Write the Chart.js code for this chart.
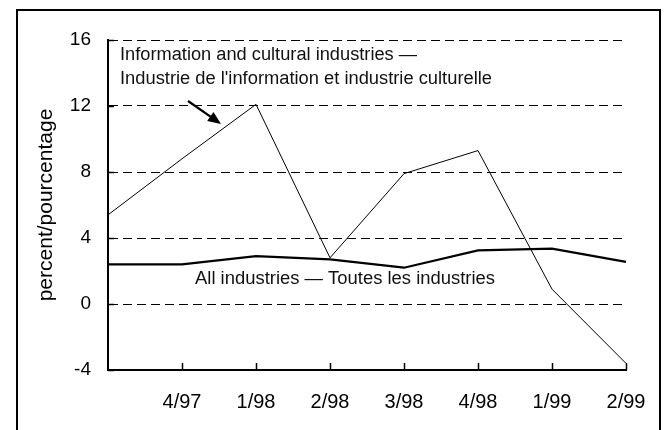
<!DOCTYPE html>
<html>
<head>
<meta charset="utf-8">
<script src="https://cdn.jsdelivr.net/npm/chart.js@4/dist/chart.umd.min.js"></script>
<style>
  html, body { margin: 0; padding: 0; background: #fff; }
  #chart { display: block; }
</style>
</head>
<body>
<canvas id="chart" width="666" height="430"></canvas>
<script>
const quarters = ['3/97', '4/97', '1/98', '2/98', '3/98', '4/98', '1/99', '2/99'];
const tickLabels = ['', '4/97', '1/98', '2/98', '3/98', '4/98', '1/99', '2/99'];
const infoCultural = [5.4, 8.8, 12.1, 2.8, 7.9, 9.3, 0.9, -3.6];
const allIndustries = [2.4, 2.4, 2.9, 2.7, 2.2, 3.25, 3.35, 2.55];

const noteInfo = ['Information and cultural industries \u2014', "Industrie de l'information et industrie culturelle"];
const noteAll = 'All industries \u2014 Toutes les industries';

const narrow = "'Liberation Sans Narrow', 'Arial Narrow', 'Liberation Sans', Arial, sans-serif";
const plain = "'Liberation Sans', Arial, sans-serif";

// draw a string squeezed/stretched to a given width
function fitText(ctx, text, x, y, width) {
  const w = ctx.measureText(text).width;
  ctx.save();
  ctx.translate(x, y);
  ctx.scale(width / w, 1);
  ctx.fillText(text, 0, 0);
  ctx.restore();
}

const extras = {
  id: 'extras',
  beforeDraw(chart) {
    const ctx = chart.ctx;
    ctx.save();
    ctx.fillStyle = '#fff';
    ctx.fillRect(0, 0, chart.width, chart.height);
    ctx.restore();
  },
  afterDatasetsDraw(chart) {
    const ctx = chart.ctx;
    const xs = chart.scales.x;
    const ys = chart.scales.y;
    ctx.save();
    ctx.strokeStyle = '#000';
    ctx.lineWidth = 1.5;
    // inward tick marks
    ctx.beginPath();
    for (let i = 1; i < quarters.length; i++) {
      const px = Math.round(xs.getPixelForValue(i)) + 0.5;
      ctx.moveTo(px, ys.bottom);
      ctx.lineTo(px, ys.bottom - 7);
    }
    ys.ticks.forEach(t => {
      const py = Math.round(ys.getPixelForValue(t.value)) + 0.5;
      ctx.moveTo(xs.left, py);
      ctx.lineTo(xs.left + 6, py);
    });
    ctx.stroke();

    // notes
    ctx.fillStyle = '#111';
    ctx.textBaseline = 'alphabetic';
    ctx.font = '18px ' + narrow;
    fitText(ctx, noteInfo[0], 120, 60, 297);
    fitText(ctx, noteInfo[1], 120, 84, 372);
    fitText(ctx, noteAll, 195, 284, 300);

    // arrow
    const x1 = 188, y1 = 101, x2 = 221, y2 = 124;
    const ang = Math.atan2(y2 - y1, x2 - x1);
    ctx.lineWidth = 2.2;
    ctx.beginPath();
    ctx.moveTo(x1, y1);
    ctx.lineTo(x2 - 8 * Math.cos(ang), y2 - 8 * Math.sin(ang));
    ctx.stroke();
    ctx.fillStyle = '#000';
    ctx.beginPath();
    ctx.moveTo(x2, y2);
    ctx.lineTo(x2 - 13 * Math.cos(ang) + 5.5 * Math.sin(ang), y2 - 13 * Math.sin(ang) - 5.5 * Math.cos(ang));
    ctx.lineTo(x2 - 13 * Math.cos(ang) - 5.5 * Math.sin(ang), y2 - 13 * Math.sin(ang) + 5.5 * Math.cos(ang));
    ctx.closePath();
    ctx.fill();

    // outer frame
    ctx.lineWidth = 2;
    ctx.strokeRect(17, 10, 643, 440);
    ctx.restore();
  }
};

new Chart(document.getElementById('chart'), {
  type: 'line',
  data: {
    labels: quarters,
    datasets: [
      {
        label: noteInfo.join(' '),
        data: infoCultural,
        borderColor: '#000',
        borderWidth: 1,
        pointRadius: 0,
        tension: 0,
      },
      {
        label: noteAll,
        data: allIndustries,
        borderColor: '#000',
        borderWidth: 2.2,
        pointRadius: 0,
        tension: 0,
      },
    ],
  },
  options: {
    responsive: false,
    animation: false,
    layout: { padding: { top: 40, right: 40, left: 0, bottom: 0 } },
    plugins: {
      legend: { display: false },
      tooltip: { enabled: false },
    },
    scales: {
      x: {
        offset: false,
        grid: { display: false, drawTicks: false },
        border: { display: true, color: '#000', width: 2 },
        ticks: {
          color: '#000',
          font: { family: plain, size: 20 },
          padding: 20,
          maxRotation: 0,
          autoSkip: false,
          callback: (v, i) => tickLabels[i],
        },
        afterFit: s => { s.height = 60; },
      },
      y: {
        min: -4,
        max: 16,
        grid: { color: '#000', lineWidth: 1, drawTicks: false },
        border: { display: true, color: '#000', width: 2, dash: [9, 5] },
        ticks: {
          stepSize: 4,
          color: '#000',
          font: { family: plain, size: 19 },
          padding: 17,
        },
        title: {
          display: true,
          text: 'percent/pourcentage',
          color: '#000',
          font: { family: plain, size: 21 },
          padding: { top: 34, bottom: 0 },
        },
        afterFit: s => { s.width = 108; },
      },
    },
  },
  plugins: [extras],
});
</script>
</body>
</html>
